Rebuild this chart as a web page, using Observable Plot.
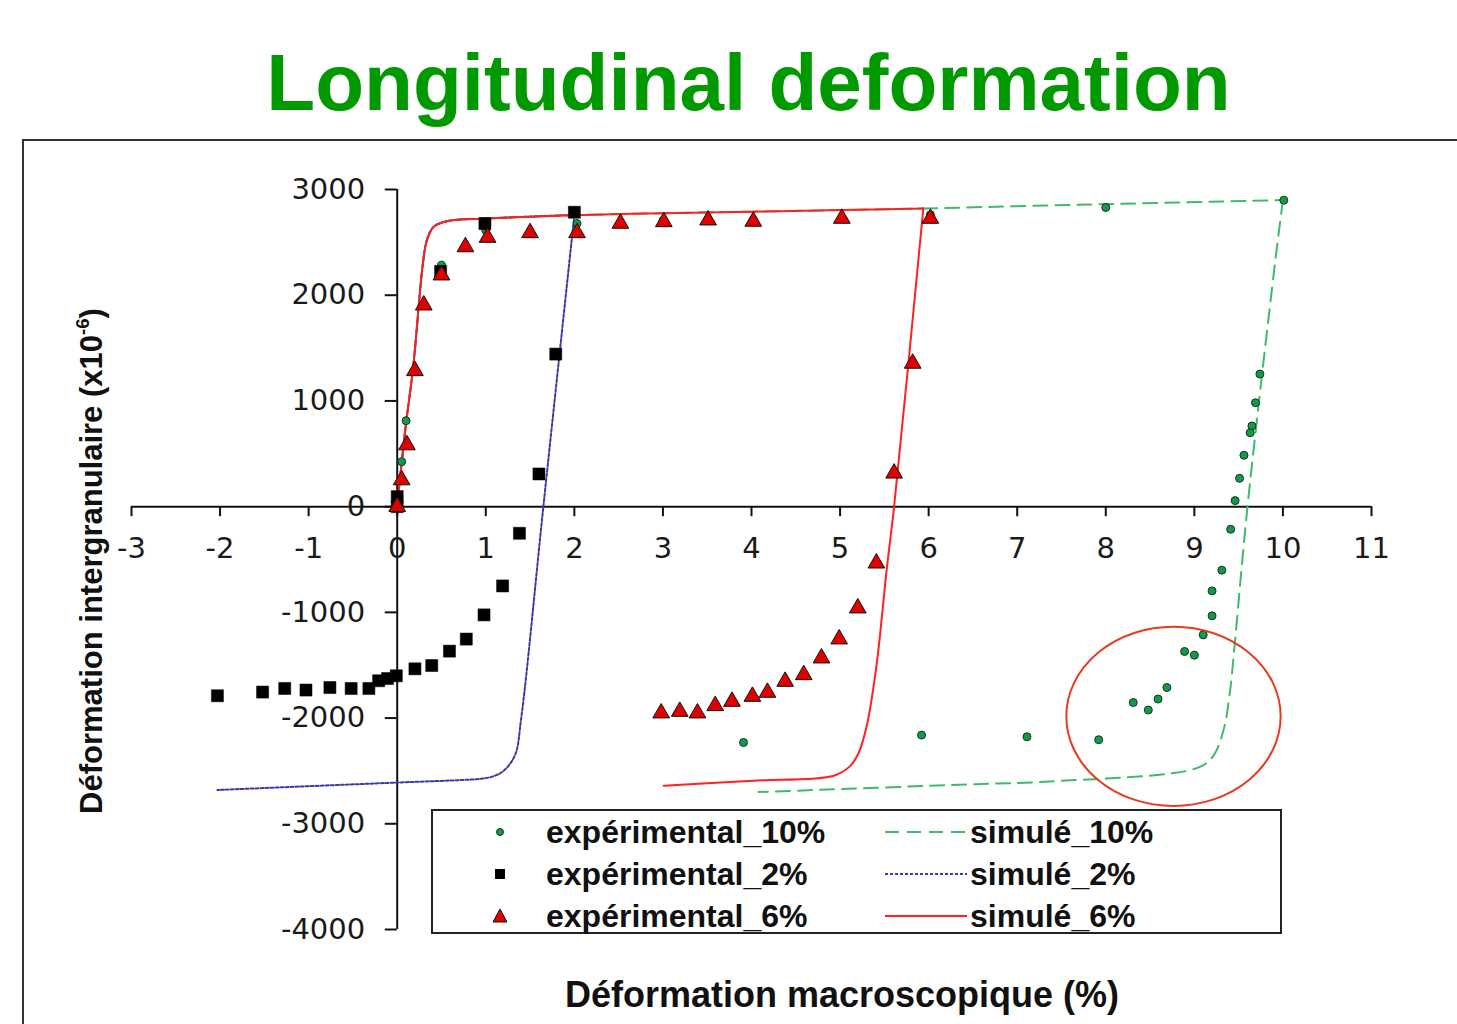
<!DOCTYPE html>
<html>
<head>
<meta charset="utf-8">
<script src="https://cdn.jsdelivr.net/npm/d3@7"></script>
<script src="https://cdn.jsdelivr.net/npm/@observablehq/plot@0.6"></script>
<style>
  html, body { margin: 0; padding: 0; background: #fff; width: 1457px; height: 1024px; overflow: hidden; }
  #title { position: absolute; left: 0; width: 1497px; top: 43px; text-align: center;
           font: bold 80px "Liberation Sans", Arial, sans-serif; line-height: 80px; color: #009a00; }
  #frame { position: absolute; left: 22px; top: 139px; width: 1500px; height: 1000px;
           border-top: 2px solid #333; border-left: 2px solid #333; z-index: 3; }
  #chart { position: absolute; left: 0; top: 140px; z-index: 2; }
  #ytitle { position: absolute; left: 92px; top: 561px; transform: translate(-50%, -50%) rotate(-90deg);
            white-space: nowrap; font: bold 31px "Liberation Sans", Arial, sans-serif; color: #111; z-index: 4; }
  #ytitle sup { font-size: 60%; vertical-align: 0.7em; line-height: 0; }
  #xtitle { position: absolute; left: 842px; top: 977px; transform: translateX(-50%); white-space: nowrap;
            font: bold 36px "Liberation Sans", Arial, sans-serif; line-height: 36px; color: #111; z-index: 4; }
  #legend { position: absolute; left: 431px; top: 809px; width: 847px; height: 121px;
            border: 2px solid #222; background: #fff; z-index: 5;
            font: bold 32px "Liberation Sans", Arial, sans-serif; color: #111; }
  .row { position: absolute; left: 0; width: 100%; height: 40px; }
  .row svg { position: absolute; top: 0; }
  .row .t1 { position: absolute; left: 113px; top: 2px; line-height: 36px; }
  .row .t2 { position: absolute; left: 537px; top: 2px; line-height: 36px; }
</style>
</head>
<body>
<div id="title">Longitudinal deformation</div>
<div id="frame"></div>
<div id="chart"></div>
<div id="ytitle">Déformation intergranulaire (x10<sup>-6</sup>)</div>
<div id="xtitle">Déformation macroscopique (%)</div>
<div id="legend"></div>
<script>
// ---- Tick labels ----
const xTicks = [-3, -2, -1, 0, 1, 2, 3, 4, 5, 6, 7, 8, 9, 10, 11];
const yTicks = [-4000, -3000, -2000, -1000, 0, 1000, 2000, 3000];

// ---- Experimental values: [macroscopic %, intergranular x1e-6] ----
const exp10 = [[0,0],[0.05,425],[0.1,813],[0.5,2284],[1.0,2615],[2.03,2678],[3.0,2705],[4.02,2712],[6.02,2760],
  [8.0,2830],[10.01,2899],[9.74,1254],[9.69,983],[9.65,763],[9.63,699],[9.56,486],[9.51,268],[9.46,57],
  [9.41,-214],[9.31,-601],[9.20,-797],[9.20,-1033],[9.10,-1213],[9.0,-1405],[8.89,-1370],[8.69,-1711],
  [8.59,-1820],[8.48,-1924],[8.31,-1853],[7.92,-2205],[7.11,-2177],[5.92,-2161],[3.91,-2231]];

const exp2 = [[0,0],[0.0,95],[0.49,2225],[0.99,2678],[2.0,2785],[1.79,1443],[1.6,309],[1.38,-252],[1.19,-750],
  [0.98,-1024],[0.78,-1253],[0.59,-1367],[0.39,-1503],[0.2,-1534],[-0.01,-1600],[-0.11,-1626],[-0.21,-1647],
  [-0.32,-1720],[-0.52,-1720],[-0.76,-1711],[-1.03,-1735],[-1.27,-1720],[-1.52,-1754],[-2.03,-1789]];

const exp6 = [[0,0],[0.05,252],[0.11,583],[0.2,1285],[0.3,1906],[0.5,2190],[0.77,2457],[1.02,2546],[1.5,2590],
  [2.03,2590],[2.52,2679],[3.01,2694],[3.51,2710],[4.02,2698],[5.02,2726],[6.02,2726],[5.82,1355],[5.61,316],
  [5.41,-535],[5.20,-960],[4.99,-1253],[4.79,-1433],[4.59,-1591],[4.38,-1654],[4.18,-1758],[4.01,-1796],
  [3.78,-1843],[3.59,-1884],[3.39,-1953],[3.19,-1938],[2.98,-1953]];

// ---- Simulated curves, split into loading and unloading branches ----
const simLoad = [[0,0],[0.09,720],[0.18,1320],[0.29,2300],[0.335,2520],[0.41,2645],[0.56,2700],[1.0,2725],
  [2.0,2757],[3.0,2775],[4.0,2790],[5.0,2805],[5.94,2820]];
const sim10Load = [[5.94,2820],[8.0,2862],[10.0,2900]];
const sim10Unload = [[10.0,2900],[9.91,2300],[9.6,0],[9.46,-1260],[9.40,-1764],[9.33,-2111],[9.21,-2363],
  [9.03,-2473],[7.37,-2600],[6.54,-2625],[4.08,-2700]];
const sim2Load = [[0,0],[0.09,720],[0.18,1320],[0.29,2300],[0.335,2520],[0.41,2645],[0.56,2700],[1.0,2725],[2.0,2760]];
const sim2Unload = [[2.0,2760],[1.65,0],[1.40,-2000],[1.33,-2350],[1.2,-2500],[1.08,-2552],[0.94,-2575],
  [0.75,-2585],[0,-2610],[-2.03,-2680]];
const sim6Unload = [[5.94,2820],[5.61,0],[5.53,-567],[5.41,-1512],[5.30,-2079],[5.20,-2347],[5.11,-2457],
  [4.93,-2545],[4.02,-2593],[3.01,-2640]];

// annotation ellipse (data units)
const ellipseAnnot = [{cx: 8.77, cy: -1988, rx: 1.21, ry: 848}];

const C = {
  green: "#3dbb6a", greenDot: "#119a48", blue: "#3a3aa8", red: "#ff2020", tri: "#e00000", ring: "#e83a20"
};
const tickFont = "DejaVu Sans, Verdana, sans-serif";
const X = d => d[0], Y = d => d[1];
const curve = "catmull-rom";

const plot = Plot.plot({
  width: 1457, height: 884,
  marginLeft: 131, marginRight: 86, marginTop: 49, marginBottom: 95,
  x: {domain: [-3, 11], axis: null},
  y: {domain: [-4000, 3000], axis: null},
  style: {background: "transparent", overflow: "visible"},
  marks: [
    // axes through the origin
    Plot.ruleY([0], {x1: -3, x2: 11, stroke: "#111", strokeWidth: 2}),
    Plot.ruleX([0], {y1: -4000, y2: 3000, stroke: "#111", strokeWidth: 2}),
    Plot.ruleX(xTicks, {x: d => d, y1: 0, y2: -95, stroke: "#111", strokeWidth: 2}),
    Plot.ruleY(yTicks, {y: d => d, x1: -0.135, x2: 0, stroke: "#111", strokeWidth: 2}),
    Plot.text(xTicks, {x: d => d, y: 0, dy: 42, text: d => String(d), fontSize: 29, fontFamily: tickFont, fill: "#1a1a1a"}),
    Plot.text(yTicks, {x: 0, y: d => d, dx: -32, text: d => String(d), textAnchor: "end", fontSize: 29, fontFamily: tickFont, fill: "#1a1a1a"}),
    // simulated curves
    Plot.line(simLoad, {x: X, y: Y, stroke: C.green, strokeWidth: 2, strokeDasharray: "14,8", curve}),
    Plot.line(sim10Load, {x: X, y: Y, stroke: C.green, strokeWidth: 2, strokeDasharray: "14,8", curve}),
    Plot.line(sim10Unload, {x: X, y: Y, stroke: C.green, strokeWidth: 2, strokeDasharray: "14,8", curve}),
    Plot.line(sim2Load, {x: X, y: Y, stroke: C.blue, strokeWidth: 2, strokeDasharray: "3,2", curve}),
    Plot.line(sim2Unload, {x: X, y: Y, stroke: C.blue, strokeWidth: 2, strokeDasharray: "3,2", curve}),
    Plot.line(simLoad, {x: X, y: Y, stroke: C.red, strokeWidth: 2, curve}),
    Plot.line(sim6Unload, {x: X, y: Y, stroke: C.red, strokeWidth: 2, curve}),
    // experimental points
    Plot.dot(exp10, {x: X, y: Y, r: 4, fill: C.greenDot, stroke: "#1b3322", strokeWidth: 1}),
    Plot.dot(exp2, {x: X, y: Y, symbol: "square", r: 6.8, fill: "#000", stroke: "#000", strokeWidth: 0.5}),
    Plot.dot(exp6, {x: X, y: Y, symbol: "triangle", r: 6.2, fill: C.tri, stroke: "#111", strokeWidth: 1})
  ]
});
document.getElementById("chart").appendChild(plot);

// annotation ellipse drawn through the plot's scales
const sx = plot.scale("x"), sy = plot.scale("y");
const svg = d3.select(plot);
ellipseAnnot.forEach(e => {
  const cx = sx.apply(e.cx), cy = sy.apply(e.cy);
  svg.append("ellipse")
    .attr("cx", cx).attr("cy", cy)
    .attr("rx", sx.apply(e.cx + e.rx) - cx)
    .attr("ry", cy - sy.apply(e.cy + e.ry))
    .attr("fill", "none").attr("stroke", C.ring).attr("stroke-width", 2);
});

// ---- Legend ----
const legendRows = [
  {label: "expérimental_10%", sim: "simulé_10%", sym: "dot", line: {stroke: C.green, dash: "14,8"}},
  {label: "expérimental_2%", sim: "simulé_2%", sym: "square", line: {stroke: C.blue, dash: "3,2"}},
  {label: "expérimental_6%", sim: "simulé_6%", sym: "triangle", line: {stroke: C.red, dash: null}}
];
const legend = document.getElementById("legend");
legendRows.forEach((row, i) => {
  const div = document.createElement("div");
  div.className = "row";
  div.style.top = (1 + i * 42) + "px";
  let symSvg = "";
  if (row.sym === "dot") symSvg = `<circle cx="10" cy="20" r="3.5" fill="${C.greenDot}" stroke="#1b3322" stroke-width="1"/>`;
  if (row.sym === "square") symSvg = `<rect x="5" y="15" width="10" height="10" fill="#000"/>`;
  if (row.sym === "triangle") symSvg = `<path d="M10,13 L17,26 L3,26 Z" fill="${C.tri}" stroke="#111" stroke-width="1"/>`;
  div.innerHTML =
    `<svg width="20" height="40" style="left:57px">${symSvg}</svg>` +
    `<span class="t1">${row.label}</span>` +
    `<svg width="84" height="40" style="left:452px"><line x1="0" y1="20" x2="82" y2="20" stroke="${row.line.stroke}" stroke-width="2" ${row.line.dash ? `stroke-dasharray="${row.line.dash}"` : ""}/></svg>` +
    `<span class="t2">${row.sim}</span>`;
  legend.appendChild(div);
});
</script>
</body>
</html>
